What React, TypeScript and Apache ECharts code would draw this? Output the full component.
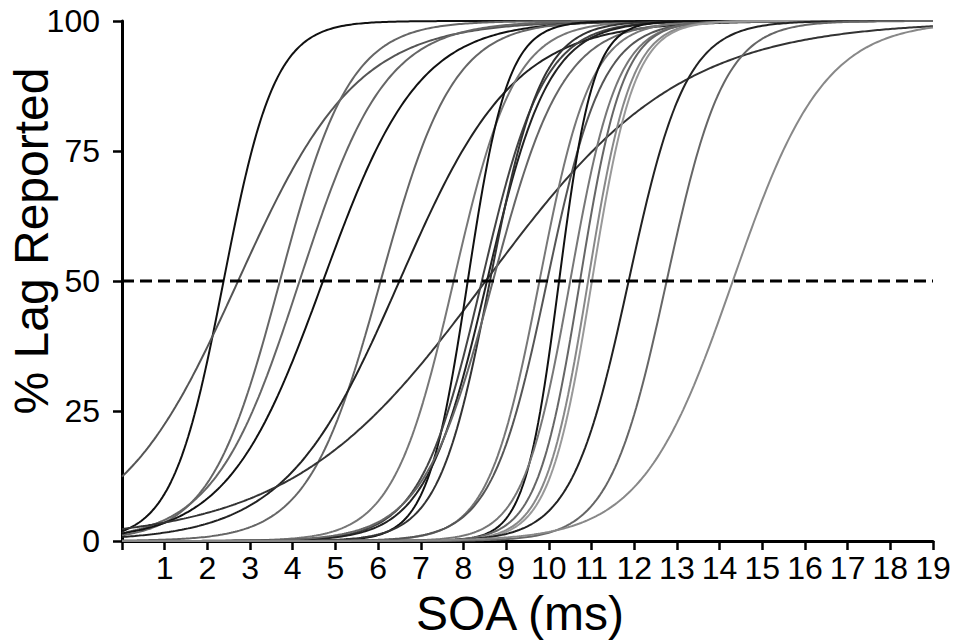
import React, { useEffect, useRef } from "react";
import * as echarts from "echarts";

// Fitted psychometric curves: 50% threshold (ms) and spread (ms) per participant
const thresholds = [2.38, 2.72, 3.7, 4.16, 4.71, 6.06, 6.5, 8.52, 7.77, 8.1, 8.43, 8.55, 8.62, 8.69, 9.78, 9.96, 10.24, 10.5, 10.73, 10.92, 11.01, 11.87, 12.76, 14.31];
const spreads = [0.6, 1.39, 0.82, 1.0, 1.12, 0.85, 1.34, 2.28, 0.71, 0.47, 0.72, 0.72, 0.6, 0.82, 0.6, 0.65, 0.4, 0.55, 0.5, 0.5, 0.5, 0.67, 0.67, 1.07];
const lineColors = ["#111", "#555", "#666", "#666", "#111", "#666", "#222", "#333", "#777", "#111", "#444", "#222", "#333", "#666", "#777", "#555", "#111", "#777", "#666", "#888", "#999", "#222", "#666", "#888"];
const xTicks = [0, 1, 2, 3, 4, 5, 6, 7, 8, 9, 10, 11, 12, 13, 14, 15, 16, 17, 18, 19];
const yTicks = [0, 25, 50, 75, 100];
const criterion = 50;
const xTitle = "SOA (ms)";
const yTitle = "% Lag Reported";

const FONT = "'Liberation Sans', Arial, sans-serif";

export default function App() {
  const ref = useRef<HTMLDivElement>(null);
  useEffect(() => {
    if (!ref.current) return;
    const chart = echarts.init(ref.current, null, { renderer: "svg" });
    const xMin = xTicks[0];
    const xMax = xTicks[xTicks.length - 1];
    const samples: number[] = [];
    for (let i = 0; i <= 380; i++) samples.push(xMin + ((xMax - xMin) * i) / 380);
    const series: any[] = thresholds.map((mu, k) => ({
      type: "line",
      showSymbol: false,
      silent: true,
      lineStyle: { color: lineColors[k], width: 2 },
      data: samples.map((x) => [x, 100 / (1 + Math.exp(-(x - mu) / spreads[k]))]),
    }));
    series.push({
      type: "line",
      showSymbol: false,
      silent: true,
      lineStyle: { color: "#000", width: 3, type: [12, 6] },
      data: [
        [xMin, criterion],
        [xMax, criterion],
      ],
      z: 10,
    });
    chart.setOption({
      animation: false,
      grid: { left: 122, right: 23, top: 21, bottom: 103, outerBoundsMode: "none", containLabel: false },
      graphic: [
        {
          type: "text",
          x: 520,
          y: 613,
          style: { text: xTitle, font: `48px ${FONT}`, fill: "#000", align: "center", verticalAlign: "middle" },
        },
        {
          type: "text",
          x: 31,
          y: 241,
          rotation: Math.PI / 2,
          style: { text: yTitle, font: `48px ${FONT}`, fill: "#000", align: "center", verticalAlign: "middle" },
        },
      ],
      xAxis: {
        type: "value",
        min: xMin,
        max: xMax,
        interval: 1,
        axisLine: { lineStyle: { color: "#000", width: 3 } },
        axisTick: { show: true, inside: false, length: 9, lineStyle: { color: "#000", width: 2.5 } },
        axisLabel: {
          fontFamily: FONT,
          fontSize: 32,
          color: "#000",
          margin: 11,
          formatter: (v: number) => (v === 0 ? "" : String(v)),
        },
        splitLine: { show: false },
      },
      yAxis: {
        type: "value",
        min: yTicks[0],
        max: yTicks[yTicks.length - 1],
        interval: 25,
        axisLine: { show: true, lineStyle: { color: "#000", width: 3 } },
        axisTick: { show: true, inside: false, length: 9, lineStyle: { color: "#000", width: 2.5 } },
        axisLabel: { fontFamily: FONT, fontSize: 32, color: "#000", margin: 22 },
        splitLine: { show: false },
      },
      series,
    });
    return () => chart.dispose();
  }, []);
  return <div ref={ref} style={{ width: 956, height: 644, position: "absolute", left: 0, top: 0 }} />;
}
